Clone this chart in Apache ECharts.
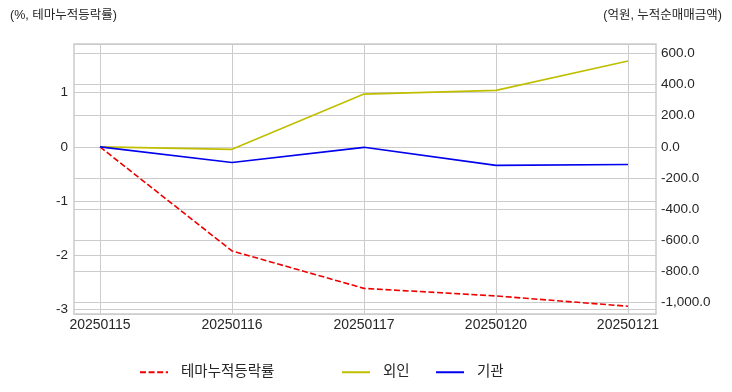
<!DOCTYPE html>
<html>
<head>
<meta charset="utf-8">
<script src="https://cdn.jsdelivr.net/npm/echarts@6/dist/echarts.min.js"></script>
<style>html,body{margin:0;padding:0;background:#fff;}#c{width:732px;height:392px;}</style>
</head>
<body>
<div id="c"></div>
<script>
const categories = ['20250115', '20250116', '20250117', '20250120', '20250121'];
const themeReturn = [0, -1.92, -2.61, -2.75, -2.94];
const foreign = [0, -16, 339, 363, 552];
const institution = [0, -100, -3, -119, -113];
const seriesNames = ['테마누적등락률', '외인', '기관'];
const leftTitle = '(%, 테마누적등락률)';
const rightTitle = '(억원, 누적순매매금액)';

const FONT = '"Liberation Sans", Arial, "Noto Sans CJK KR", sans-serif';
const TXT = '#262626';
const GRID = '#cccccc';
const leftRange = [-3.083, 1.898];
const rightRange = [-1074, 661];

const chart = echarts.init(document.getElementById('c'), null, {renderer: 'canvas'});
const fmtRight = v => v.toLocaleString('en-US', {minimumFractionDigits: 1, maximumFractionDigits: 1});

const legendBase = {
  top: 360, itemWidth: 28, itemHeight: 14,
  itemStyle: {opacity: 0, borderWidth: 0},
  textStyle: {fontFamily: FONT, fontSize: 14.5, color: TXT, padding: [0, 0, 0, 8]}
};

chart.setOption({
  animation: false,
  textStyle: {fontFamily: FONT},
  graphic: [
    {type: 'text', left: 10, top: 9, style: {text: leftTitle, font: '12.5px ' + FONT, fill: TXT}},
    {type: 'text', right: 10, top: 9, style: {text: rightTitle, font: '12.5px ' + FONT, fill: TXT}}
  ],
  legend: [
    Object.assign({}, legendBase, {left: 134, data: [seriesNames[0]]}),
    Object.assign({}, legendBase, {left: 336, data: [seriesNames[1]]}),
    Object.assign({}, legendBase, {left: 430, data: [seriesNames[2]]})
  ],
  grid: [
    {left: 74, right: 76, top: 44, bottom: 78, show: true, borderColor: GRID, borderWidth: 1.5, backgroundColor: '#fff'},
    {left: 100, right: 104, top: 44, bottom: 78}
  ],
  xAxis: [
    {type: 'value', gridIndex: 0, min: 0, max: 1, show: false},
    {type: 'category', gridIndex: 1, data: categories, boundaryGap: false,
     axisLine: {show: false}, axisTick: {show: false},
     splitLine: {show: true, lineStyle: {color: GRID, width: 1}},
     axisLabel: {color: TXT, fontSize: 14, fontFamily: FONT, margin: 4}}
  ],
  yAxis: [
    {type: 'value', gridIndex: 0, position: 'left', min: leftRange[0], max: leftRange[1], splitNumber: 5,
     axisLine: {show: false}, axisTick: {show: false},
     splitLine: {show: true, lineStyle: {color: GRID, width: 1}},
     axisLabel: {color: TXT, fontSize: 13.5, fontFamily: FONT, margin: 6, showMinLabel: false, showMaxLabel: false,
                 formatter: v => String(v)}},
    {type: 'value', gridIndex: 0, position: 'right', min: rightRange[0], max: rightRange[1], splitNumber: 8,
     axisLine: {show: false}, axisTick: {show: false},
     splitLine: {show: true, lineStyle: {color: GRID, width: 1}},
     axisLabel: {color: TXT, fontSize: 13.5, fontFamily: FONT, margin: 5, showMinLabel: false, showMaxLabel: false,
                 formatter: fmtRight}},
    {type: 'value', gridIndex: 1, min: leftRange[0], max: leftRange[1], show: false},
    {type: 'value', gridIndex: 1, position: 'right', min: rightRange[0], max: rightRange[1], show: false}
  ],
  series: [
    {name: seriesNames[0], type: 'line', xAxisIndex: 1, yAxisIndex: 2, data: themeReturn,
     symbol: 'none', lineStyle: {color: '#ee0000', width: 1.6, type: [6, 2.6]}, itemStyle: {color: '#ee0000'}},
    {name: seriesNames[1], type: 'line', xAxisIndex: 1, yAxisIndex: 3, data: foreign,
     symbol: 'none', lineStyle: {color: '#bfbf00', width: 1.6}, itemStyle: {color: '#bfbf00'}},
    {name: seriesNames[2], type: 'line', xAxisIndex: 1, yAxisIndex: 3, data: institution,
     symbol: 'none', lineStyle: {color: '#0000ee', width: 1.6}, itemStyle: {color: '#0000ee'}}
  ]
});
</script>
</body>
</html>
